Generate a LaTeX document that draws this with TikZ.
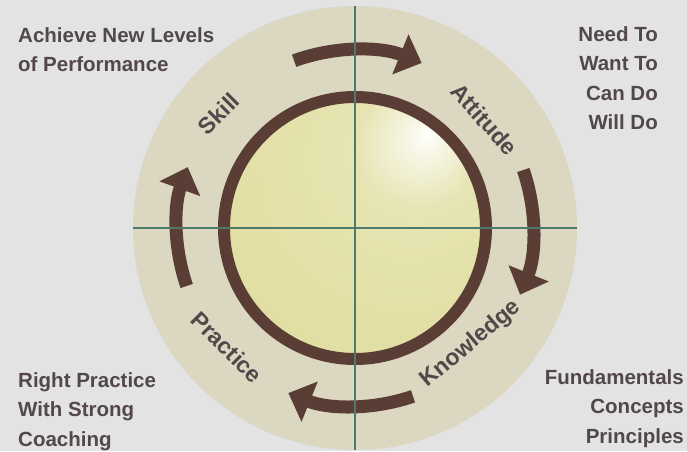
\documentclass[tikz,border=0pt]{standalone}
\usepackage{fontspec}
\setmainfont{Liberation Sans}
\usetikzlibrary{arrows.meta,positioning}
\definecolor{backgray}{RGB}{227, 227, 227}
\definecolor{discbeige}{RGB}{219, 215, 193}
\definecolor{crossteal}{RGB}{78, 122, 108}
\definecolor{ringbrown}{RGB}{90, 62, 54}
\definecolor{textgray}{RGB}{82, 72, 74}
\definecolor{spherebase}{RGB}{230, 228, 178}
\definecolor{sphereedge}{RGB}{221, 218, 150}
\pgfdeclareradialshading{spherelight}{\pgfpoint{14bp}{18bp}}{%
  color(0bp)=(white); color(3bp)=(white!70!spherebase);
  color(12bp)=(spherebase); color(55bp)=(sphereedge); color(80bp)=(sphereedge)}

\begin{document}
\begin{tikzpicture}[x=1pt, y=1pt,
    cornertext/.style={text=textgray, font=\fontsize{20.5}{29.5}\selectfont\bfseries, inner sep=0pt},
    ringlabel/.style={text=textgray, font=\fontsize{23}{25}\selectfont\bfseries, inner sep=0pt},
    cyclearrow/.style={draw=ringbrown, line width=13pt, -{Triangle[width=42pt, length=23pt]}},
    crossline/.style={draw=crossteal, line width=2.5pt}]
            % Fondo
            \useasboundingbox (0,0) rectangle (687,451);
            \fill[backgray] (0,0) rectangle (687,451);
            \coordinate (c) at (355,223);

            % Disco y esfera
            \node[circle, fill=discbeige, minimum size=444pt, inner sep=0pt] (disc) at (c) {};
            \node[circle, draw=ringbrown, line width=12pt, shading=spherelight, minimum size=262pt, inner sep=0pt] (sphere) at (c) {};

            % Flechas del ciclo
            \draw[cyclearrow] ([shift={(110:178)}]c) arc[start angle=110, end angle=68, radius=178];
            \draw[cyclearrow] ([shift={(19:178)}]c) arc[start angle=19, end angle=-22, radius=178];
            \draw[cyclearrow] ([shift={(-71:178)}]c) arc[start angle=-71, end angle=-112, radius=178];
            \draw[cyclearrow] ([shift={(199:178)}]c) arc[start angle=199, end angle=160, radius=178];

            % Ejes
            \draw[crossline] (disc.west) -- (disc.east);
            \draw[crossline] (disc.north) -- (disc.south);

            % Etapas
            \node[ringlabel, rotate=45] (skill) at ([shift={(140:178)}]c) {Skill};
            \node[ringlabel, rotate=-48] (attitude) at ([shift={(40:169)}]c) {Attitude};
            \node[ringlabel, rotate=40] (knowledge) at ([shift={(-45:164)}]c) {Knowledge};
            \node[ringlabel, rotate=-45] (practice) at ([shift={(223:175)}]c) {Practice};

            % Etiquetas
            \node[cornertext, anchor=north west, align=left] (goal) at (18,424) {Achieve New Levels\\of Performance};
            \node[cornertext, anchor=north east, align=right] (motive) at (658,425) {Need To\\Want To\\Can Do\\Will Do};
            \node[cornertext, anchor=north west, align=left] (coaching) at (18,79) {Right Practice\\With Strong\\Coaching};
            \node[cornertext, anchor=north east, align=right] (basics) at (684,82) {Fundamentals\\Concepts\\Principles};
        \end{tikzpicture}
\end{document}
